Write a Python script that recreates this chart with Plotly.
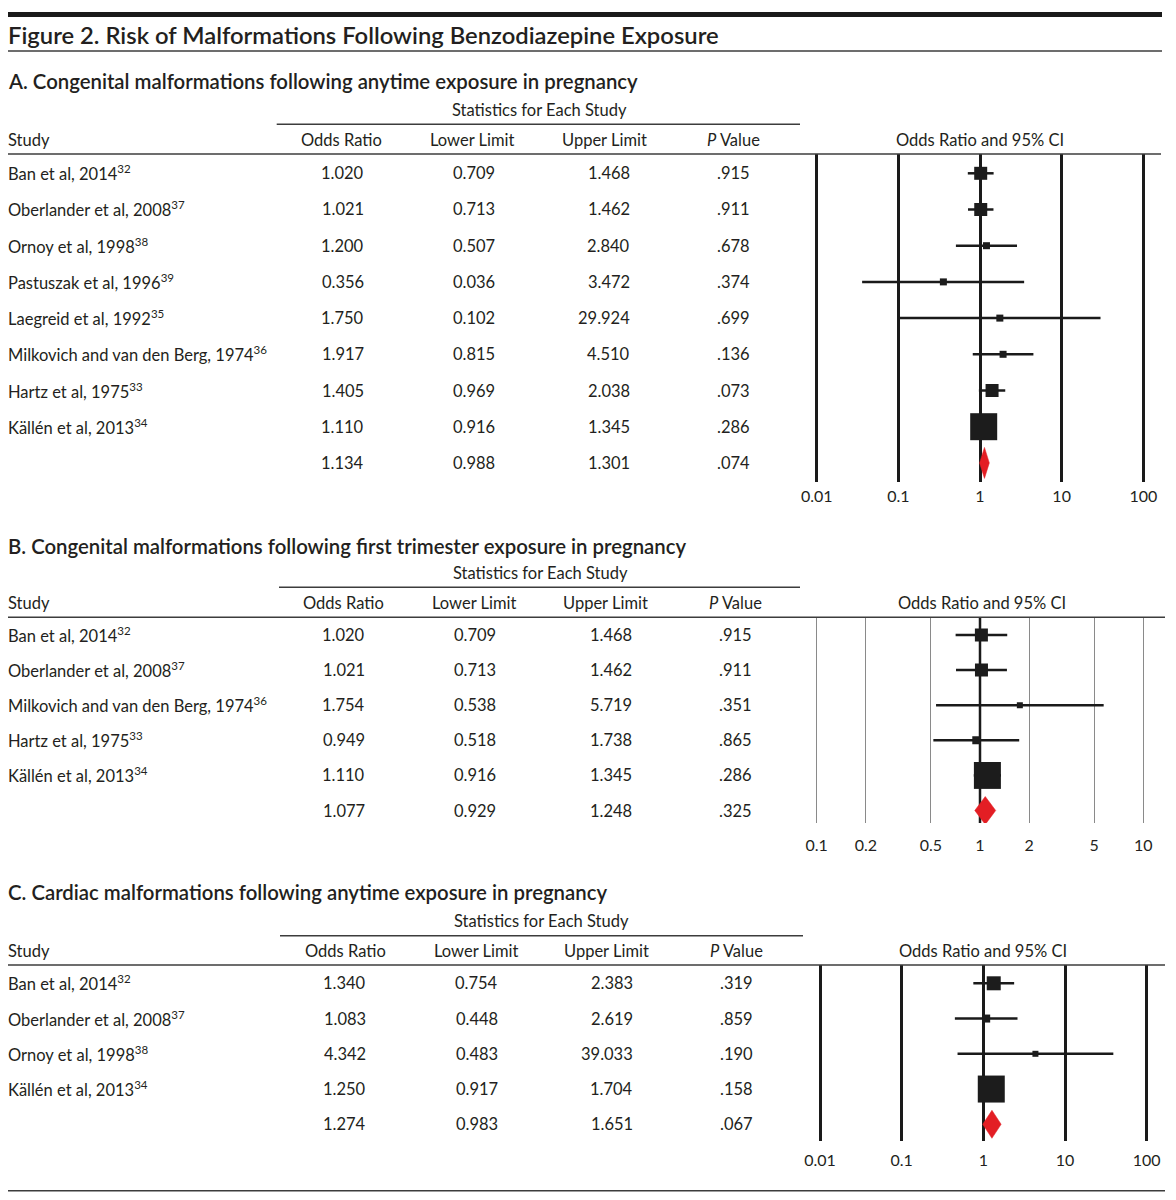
import math
import plotly.graph_objects as go

W, H = 1176, 1200
FONT = "Lato"
TXT = "#231f20"
LINE = "#3c3c3c"
RED = "#e31e24"
SQ = "#1c1c1c"

# ---------------- DATA ----------------
main_title = "Figure 2. Risk of Malformations Following Benzodiazepine Exposure"
col_headers = ["Odds Ratio", "Lower Limit", "Upper Limit", "<i>P</i> Value"]

a_title = "A. Congenital malformations following anytime exposure in pregnancy"
a_studies = ["Ban et al, 2014<sup>32</sup>", "Oberlander et al, 2008<sup>37</sup>",
             "Ornoy et al, 1998<sup>38</sup>", "Pastuszak et al, 1996<sup>39</sup>",
             "Laegreid et al, 1992<sup>35</sup>", "Milkovich and van den Berg, 1974<sup>36</sup>",
             "Hartz et al, 1975<sup>33</sup>", "Källén et al, 2013<sup>34</sup>", ""]
a_or = [1.020, 1.021, 1.200, 0.356, 1.750, 1.917, 1.405, 1.110, 1.134]
a_lo = [0.709, 0.713, 0.507, 0.036, 0.102, 0.815, 0.969, 0.916, 0.988]
a_hi = [1.468, 1.462, 2.840, 3.472, 29.924, 4.510, 2.038, 1.345, 1.301]
a_p = [".915", ".911", ".678", ".374", ".699", ".136", ".073", ".286", ".074"]
a_box = [13, 13, 7, 7, 7, 7, 13, 27]
a_tickvals = [0.01, 0.1, 1, 10, 100]
a_ticktext = ["0.01", "0.1", "1", "10", "100"]

b_title = "B. Congenital malformations following first trimester exposure in pregnancy"
b_studies = ["Ban et al, 2014<sup>32</sup>", "Oberlander et al, 2008<sup>37</sup>",
             "Milkovich and van den Berg, 1974<sup>36</sup>", "Hartz et al, 1975<sup>33</sup>",
             "Källén et al, 2013<sup>34</sup>", ""]
b_or = [1.020, 1.021, 1.754, 0.949, 1.110, 1.077]
b_lo = [0.709, 0.713, 0.538, 0.518, 0.916, 0.929]
b_hi = [1.468, 1.462, 5.719, 1.738, 1.345, 1.248]
b_p = [".915", ".911", ".351", ".865", ".286", ".325"]
b_box = [13, 13, 6, 8, 27]
b_tickvals = [0.1, 0.2, 0.5, 1, 2, 5, 10]
b_ticktext = ["0.1", "0.2", "0.5", "1", "2", "5", "10"]

c_title = "C. Cardiac malformations following anytime exposure in pregnancy"
c_studies = ["Ban et al, 2014<sup>32</sup>", "Oberlander et al, 2008<sup>37</sup>",
             "Ornoy et al, 1998<sup>38</sup>", "Källén et al, 2013<sup>34</sup>", ""]
c_or = [1.340, 1.083, 4.342, 1.250, 1.274]
c_lo = [0.754, 0.448, 0.483, 0.917, 0.983]
c_hi = [2.383, 2.619, 39.033, 1.704, 1.651]
c_p = [".319", ".859", ".190", ".158", ".067"]
c_box = [14, 8, 6, 27]
c_tickvals = [0.01, 0.1, 1, 10, 100]
c_ticktext = ["0.01", "0.1", "1", "10", "100"]

# ---------------- LAYOUT SPECS (pixels) ----------------
panels = [
    dict(title=a_title, studies=a_studies, orr=a_or, lo=a_lo, hi=a_hi, p=a_p, box=a_box,
         tv=a_tickvals, tt=a_ticktext,
         title_y=81, stats_y=110, stats_x=539, sline_y=124.3, sline_x=(276.7, 800),
         head_y=140, hline_y=154, hline_x1=1161,
         col_c=[341.7, 473, 604, 733.5], col_r=[365.5, 496.5, 632.5, 752.5], ci_c=980,
         dom_x=(800, 1165), tick_px=(816.7, 1143.3),
         top=154, bottom=482, row0=173.3, step=36.2, dia=15.5, standoff=3,
         grid="#1a1a1a", gridw=2.5, oneline=False),
    dict(title=b_title, studies=b_studies, orr=b_or, lo=b_lo, hi=b_hi, p=b_p, box=b_box,
         tv=b_tickvals, tt=b_ticktext,
         title_y=546, stats_y=573, stats_x=540, sline_y=587.3, sline_x=(279, 800),
         head_y=603, hline_y=617.3, hline_x1=1165,
         col_c=[343.3, 474, 605, 735], col_r=[367, 498, 634, 754], ci_c=982,
         dom_x=(800, 1165), tick_px=(816.7, 1143.3),
         top=617.3, bottom=823, row0=635, step=35.1, dia=14, standoff=11,
         grid="#8a8a8a", gridw=1.3, oneline=True),
    dict(title=c_title, studies=c_studies, orr=c_or, lo=c_lo, hi=c_hi, p=c_p, box=c_box,
         tv=c_tickvals, tt=c_ticktext,
         title_y=892, stats_y=921, stats_x=541, sline_y=935.7, sline_x=(280, 803),
         head_y=951, hline_y=965, hline_x1=1165,
         col_c=[345, 476, 606, 736], col_r=[368.5, 499.5, 634.5, 754.5], ci_c=983,
         dom_x=(800, 1166), tick_px=(820, 1146.7),
         top=965, bottom=1141, row0=983.3, step=35.25, dia=14, standoff=8,
         grid="#1a1a1a", gridw=2.5, oneline=False),
]


def px(x):
    return x / W


def py(y):
    return 1 - y / H


fig = go.Figure()
shapes = []
annots = []
TF = dict(family=FONT, size=16.5, color=TXT)


def hline(y, x0, x1, width=1.5, color=LINE):
    shapes.append(dict(type="line", xref="paper", yref="paper", x0=px(x0), x1=px(x1),
                       y0=py(y), y1=py(y), line=dict(color=color, width=width)))


def text(x, y, s, anchor="left", font=None, yref="paper"):
    annots.append(dict(x=x, y=y, xref="paper", yref=yref, text=s, showarrow=False,
                       xanchor=anchor, yanchor="middle", font=font or TF))


LEFT = 6  # left text edge (annotation has ~2px padding)

# top bar, main title and rule
hline(14.5, 8, 1162, width=5, color="#1a1a1a")
text(px(LEFT), py(34.5), main_title, font=dict(family=FONT, size=23.8, color=TXT, weight=600))
hline(51, 8, 1162, width=1.5)
hline(1190.7, 8, 1165, width=1.5)

for k, P in enumerate(panels):
    sfx = "" if k == 0 else str(k + 1)
    xname, yname = "x" + sfx, "y" + sfx
    n = len(P["orr"])
    # axes
    v0, v1 = P["tv"][0], P["tv"][-1]
    t0, t1 = P["tick_px"]
    dec = (t1 - t0) / (math.log10(v1) - math.log10(v0))
    L, R = P["dom_x"]
    xr = [math.log10(v0) - (t0 - L) / dec, math.log10(v1) + (R - t1) / dec]
    yr = [(P["bottom"] - P["row0"]) / P["step"], (P["top"] - P["row0"]) / P["step"]]
    fig.layout["xaxis" + sfx] = dict(
        type="log", domain=[px(L), px(R)], range=xr, tickvals=P["tv"], ticktext=P["tt"],
        showgrid=True, gridcolor=P["grid"], gridwidth=P["gridw"], zeroline=False,
        showline=False, ticks="", tickfont=dict(family=FONT, size=16, color=TXT),
        anchor=yname, ticklabelstandoff=P["standoff"], fixedrange=True)
    fig.layout["yaxis" + sfx] = dict(
        domain=[py(P["bottom"]), py(P["top"])], range=yr, showgrid=False, zeroline=False,
        showticklabels=False, showline=False, anchor=xname, fixedrange=True)

    if P["oneline"]:
        fig.add_trace(go.Scatter(x=[1, 1], y=yr, mode="lines", xaxis=xname, yaxis=yname,
                                 line=dict(color="#1a1a1a", width=2.5), hoverinfo="skip",
                                 showlegend=False))

    # CI lines for individual studies
    m = n - 1
    cx, cy = [], []
    for i in range(m):
        cx += [P["lo"][i], P["hi"][i], None]
        cy += [i, i, None]
    fig.add_trace(go.Scatter(x=cx, y=cy, mode="lines", xaxis=xname, yaxis=yname,
                             line=dict(color="#1a1a1a", width=2.5), hoverinfo="skip",
                             showlegend=False))
    fig.add_trace(go.Scatter(x=P["orr"][:m], y=list(range(m)), mode="markers",
                             xaxis=xname, yaxis=yname,
                             marker=dict(symbol="square", size=P["box"], color=SQ,
                                         opacity=1, line=dict(width=0)),
                             showlegend=False))
    # pooled diamond
    h = P["dia"] / P["step"]
    fig.add_trace(go.Scatter(x=[P["lo"][m], P["orr"][m], P["hi"][m], P["orr"][m], P["lo"][m]],
                             y=[m, m - h, m, m + h, m], mode="lines", fill="toself",
                             fillcolor=RED, line=dict(color=RED, width=0.5),
                             xaxis=xname, yaxis=yname, showlegend=False))

    # panel text
    text(px(LEFT), py(P["title_y"]), P["title"],
         font=dict(family=FONT, size=20.35, color=TXT, weight=600))
    text(px(P["stats_x"]), py(P["stats_y"]), "Statistics for Each Study", anchor="center")
    hline(P["sline_y"], *P["sline_x"])
    text(px(LEFT), py(P["head_y"]), "Study")
    for j, hd in enumerate(col_headers):
        text(px(P["col_c"][j]), py(P["head_y"]), hd, anchor="center")
    text(px(P["ci_c"]), py(P["head_y"]), "Odds Ratio and 95% CI", anchor="center")
    hline(P["hline_y"], 8, P["hline_x1"])

    for i in range(n):
        if P["studies"][i]:
            text(px(LEFT), i, P["studies"][i], yref=yname)
        vals = ["%.3f" % P["orr"][i], "%.3f" % P["lo"][i], "%.3f" % P["hi"][i], P["p"][i]]
        for j, v in enumerate(vals):
            text(px(P["col_r"][j]), i, v, anchor="right", yref=yname)

fig.update_layout(width=W, height=H, margin=dict(l=0, r=0, t=0, b=0),
                  paper_bgcolor="white", plot_bgcolor="white", showlegend=False,
                  shapes=shapes, annotations=annots, font=dict(family=FONT, color=TXT))

fig.write_html("out.html", config={"displayModeBar": False},
               post_script="document.body.style.margin='0';")
